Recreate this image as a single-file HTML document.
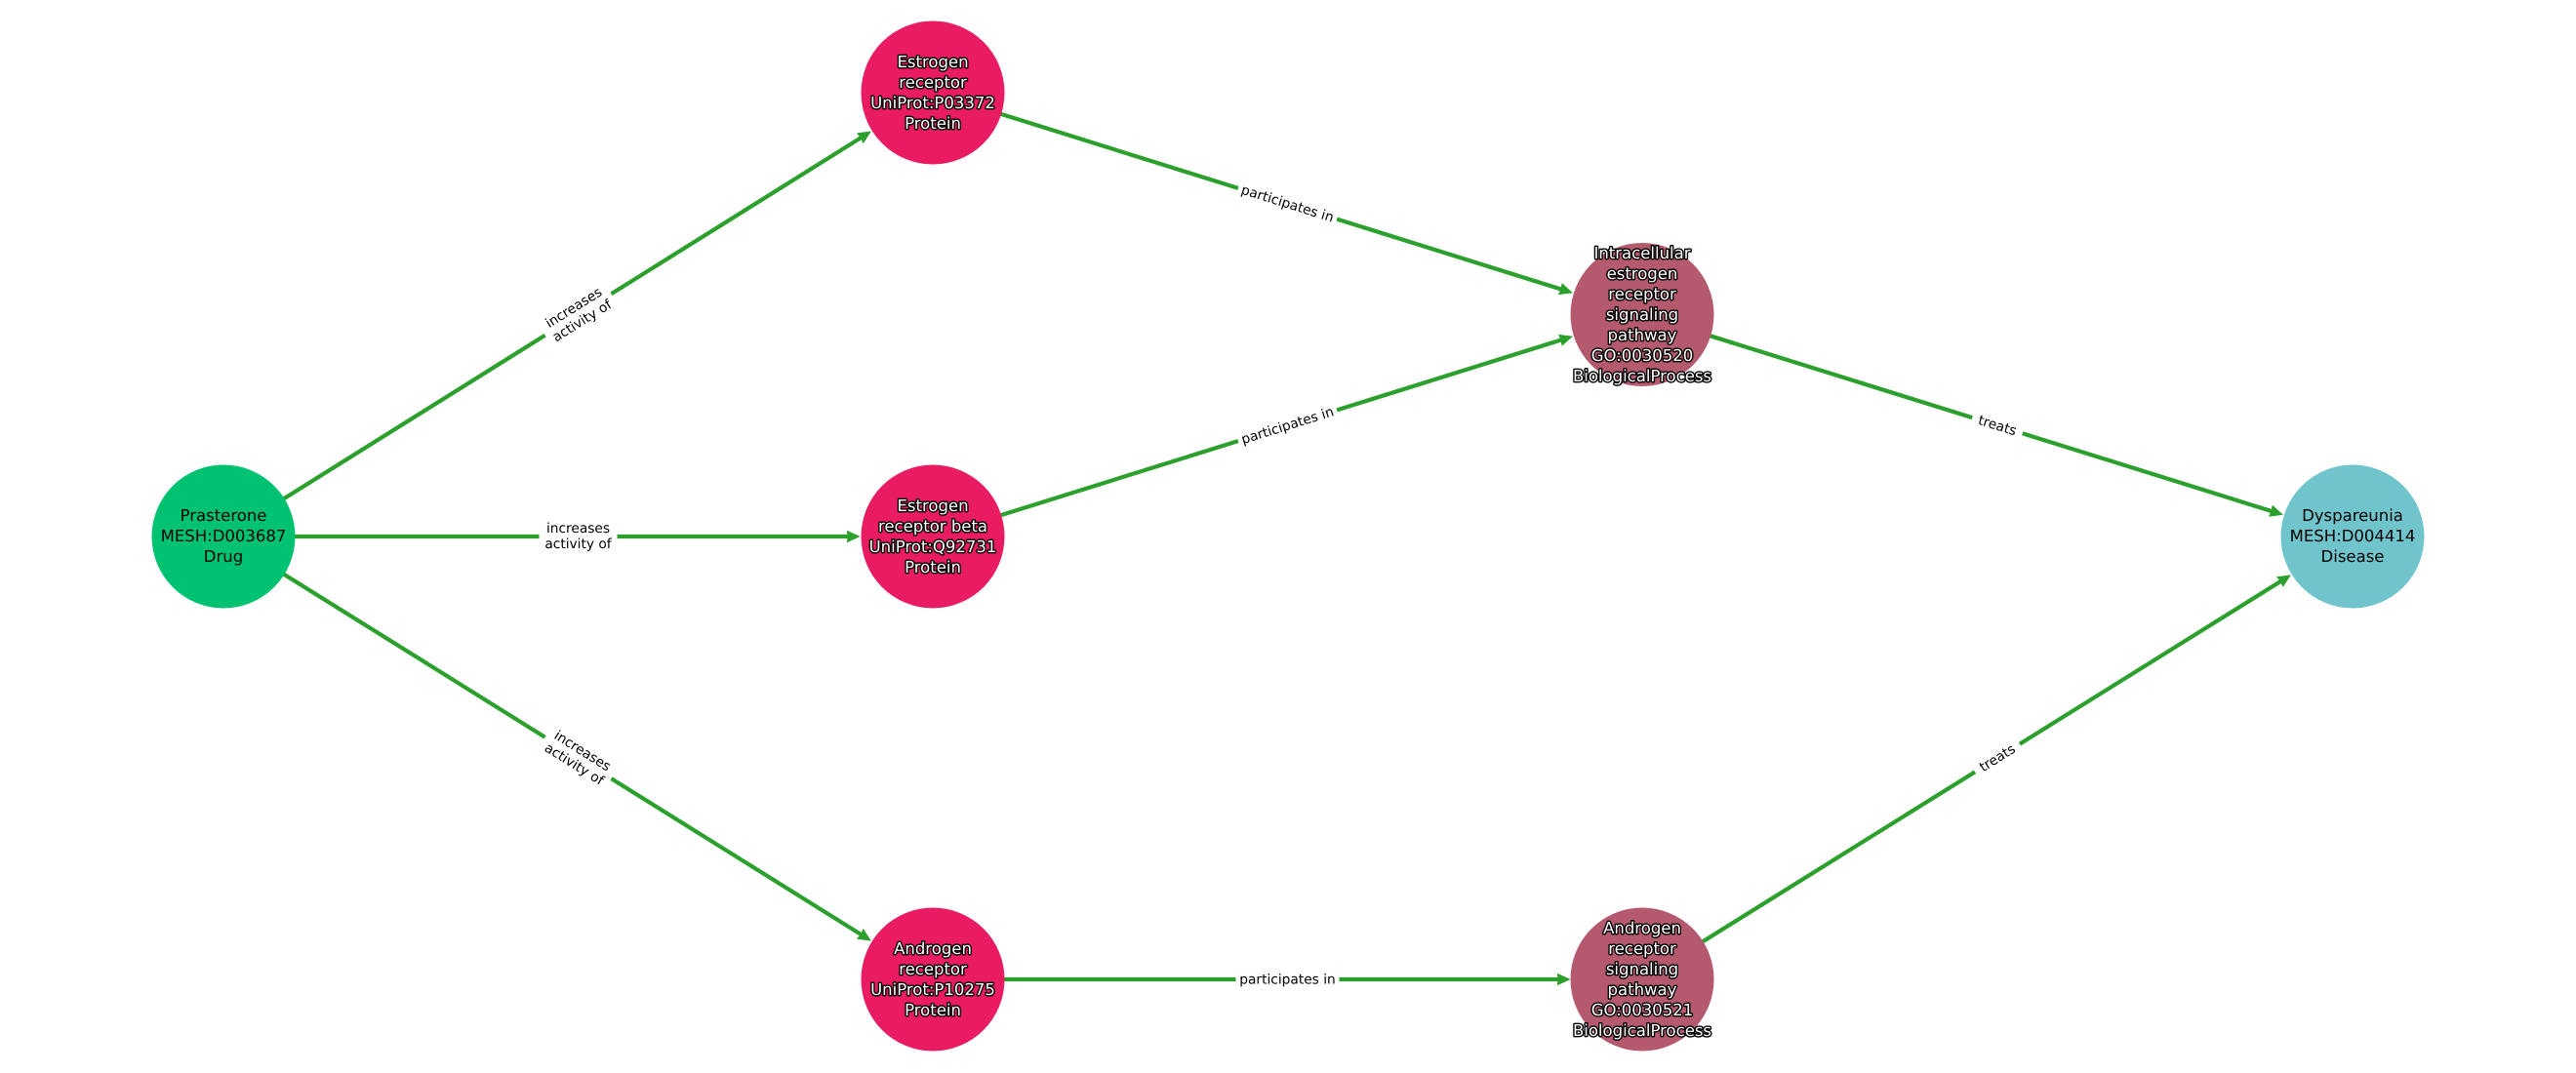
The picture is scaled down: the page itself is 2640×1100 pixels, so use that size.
<!DOCTYPE html>
<html>
<head>
<meta charset="utf-8">
<style>
html,body{margin:0;padding:0;background:#fff;}
svg{display:block;}
text{font-family:"DejaVu Sans",sans-serif;text-anchor:middle;text-rendering:geometricPrecision;}
.n{font-size:16.5px;}
.k{fill:#000;}
.w{fill:#fff;stroke:#000;stroke-width:2.8px;paint-order:stroke;stroke-linejoin:round;}
.e{font-size:13.75px;fill:#000;}
.l{stroke:#2ca02c;stroke-width:4.2;fill:none;}
</style>
</head>
<body>
<svg width="2640" height="1100" viewBox="0 0 2640 1100" xmlns="http://www.w3.org/2000/svg">
<defs>
<marker id="a" markerUnits="userSpaceOnUse" markerWidth="16" markerHeight="16" refX="8" refY="7" orient="auto">
<path d="M0,1 L13,7 L0,13 L1,7 Z" fill="#2ca02c" stroke="#2ca02c" stroke-width="0.5"/>
</marker>
</defs>
<rect width="2640" height="1100" fill="#fff"/>

<line class="l" x1="229" y1="550" x2="888.2" y2="137.5" marker-end="url(#a)"/>
<line class="l" x1="229" y1="550" x2="876" y2="550" marker-end="url(#a)"/>
<line class="l" x1="229" y1="550" x2="888.2" y2="961.6" marker-end="url(#a)"/>
<line class="l" x1="956" y1="95" x2="1606.6" y2="298.6" marker-end="url(#a)"/>
<line class="l" x1="956" y1="550" x2="1606.6" y2="346.4" marker-end="url(#a)"/>
<line class="l" x1="956" y1="1004" x2="1604" y2="1004" marker-end="url(#a)"/>
<line class="l" x1="1683" y1="322.5" x2="2334.6" y2="526.1" marker-end="url(#a)"/>
<line class="l" x1="1683" y1="1004" x2="2343.2" y2="592.3" marker-end="url(#a)"/>

<g transform="translate(592.5,322.5) rotate(-32)"><rect x="-40" y="-21" width="80" height="42" fill="#fff"/><text class="e" y="-4">increases</text><text class="e" y="12">activity of</text></g>
<g transform="translate(592.5,550)"><rect x="-40" y="-21" width="80" height="42" fill="#fff"/><text class="e" y="-4">increases</text><text class="e" y="12">activity of</text></g>
<g transform="translate(592.5,777) rotate(32)"><rect x="-40" y="-21" width="80" height="42" fill="#fff"/><text class="e" y="-4">increases</text><text class="e" y="12">activity of</text></g>
<g transform="translate(1319.5,208.75) rotate(17.4)"><rect x="-53" y="-13" width="106" height="26" fill="#fff"/><text class="e" y="4.5">participates in</text></g>
<g transform="translate(1319.5,436.25) rotate(-17.4)"><rect x="-53" y="-13" width="106" height="26" fill="#fff"/><text class="e" y="4.5">participates in</text></g>
<g transform="translate(1319.5,1004)"><rect x="-53" y="-13" width="106" height="26" fill="#fff"/><text class="e" y="4.5">participates in</text></g>
<g transform="translate(2047,436.25) rotate(17.4)"><rect x="-27" y="-13" width="54" height="26" fill="#fff"/><text class="e" y="4.5">treats</text></g>
<g transform="translate(2047,777) rotate(-32)"><rect x="-27" y="-13" width="54" height="26" fill="#fff"/><text class="e" y="4.5">treats</text></g>

<circle cx="229" cy="550" r="73.5" fill="#00c271"/>
<circle cx="956" cy="95" r="73.5" fill="#e91b62"/>
<circle cx="956" cy="550" r="73.5" fill="#e91b62"/>
<circle cx="956" cy="1004" r="73.5" fill="#e91b62"/>
<circle cx="1683" cy="322.5" r="73.5" fill="#b5596f"/>
<circle cx="1683" cy="1004" r="73.5" fill="#b5596f"/>
<circle cx="2411" cy="550" r="73.5" fill="#70c5cc"/>

<text class="n k" x="229" y="534">Prasterone</text>
<text class="n k" x="229" y="555">MESH:D003687</text>
<text class="n k" x="229" y="576">Drug</text>
<text class="n k" x="2411" y="534">Dyspareunia</text>
<text class="n k" x="2411" y="555">MESH:D004414</text>
<text class="n k" x="2411" y="576">Disease</text>

<text class="n w" x="956" y="69">Estrogen</text>
<text class="n w" x="956" y="90">receptor</text>
<text class="n w" x="956" y="111">UniProt:P03372</text>
<text class="n w" x="956" y="132">Protein</text>

<text class="n w" x="956" y="524">Estrogen</text>
<text class="n w" x="956" y="545">receptor beta</text>
<text class="n w" x="956" y="566">UniProt:Q92731</text>
<text class="n w" x="956" y="587">Protein</text>

<text class="n w" x="956" y="978">Androgen</text>
<text class="n w" x="956" y="999">receptor</text>
<text class="n w" x="956" y="1020">UniProt:P10275</text>
<text class="n w" x="956" y="1041">Protein</text>

<text class="n w" x="1683" y="265">Intracellular</text>
<text class="n w" x="1683" y="286">estrogen</text>
<text class="n w" x="1683" y="307">receptor</text>
<text class="n w" x="1683" y="328">signaling</text>
<text class="n w" x="1683" y="349">pathway</text>
<text class="n w" x="1683" y="370">GO:0030520</text>
<text class="n w" x="1683" y="391">BiologicalProcess</text>

<text class="n w" x="1683" y="957">Androgen</text>
<text class="n w" x="1683" y="978">receptor</text>
<text class="n w" x="1683" y="999">signaling</text>
<text class="n w" x="1683" y="1020">pathway</text>
<text class="n w" x="1683" y="1041">GO:0030521</text>
<text class="n w" x="1683" y="1062">BiologicalProcess</text>
</svg>
</body>
</html>
